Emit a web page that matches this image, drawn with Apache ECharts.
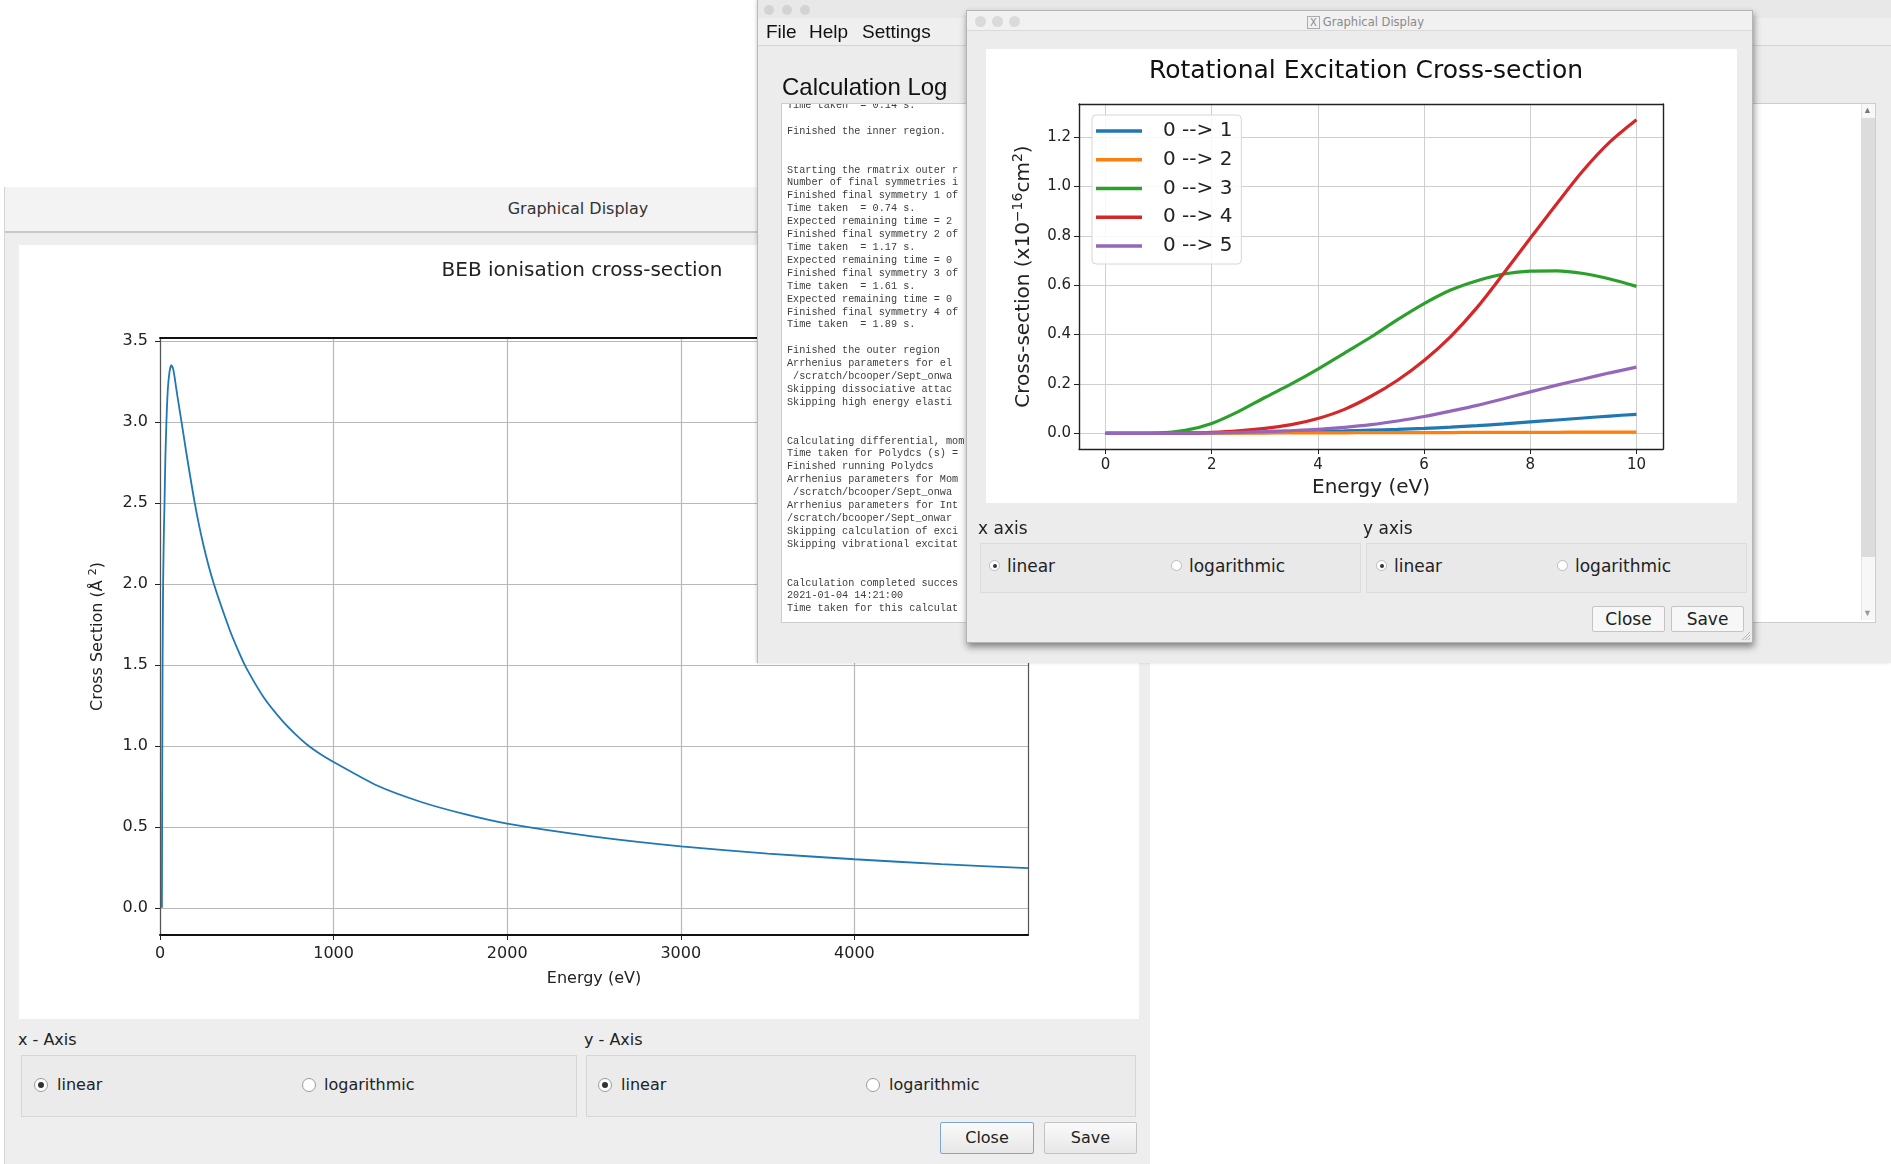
<!DOCTYPE html>
<html>
<head>
<meta charset="utf-8">
<title>Cross-section viewer</title>
<script src="https://cdn.jsdelivr.net/npm/echarts@6/dist/echarts.min.js"></script>
<style>
  html, body { margin: 0; padding: 0; }
  body { width: 1891px; height: 1164px; position: relative; overflow: hidden; background: #fff;
         font-family: 'DejaVu Sans', sans-serif; color: #222; }
  .win { position: absolute; box-sizing: border-box; }
  .a { position: absolute; box-sizing: border-box; }
  .txt { position: absolute; white-space: nowrap; line-height: 20px; }
  .dot { position: absolute; border-radius: 50%; }
  .radio { position: absolute; border-radius: 50%; background: #fff; box-sizing: border-box; }
  .radio.on::after { content: ''; position: absolute; border-radius: 50%; background: #333; }
  .btn { position: absolute; box-sizing: border-box; text-align: center; }
  /* left window */
  #winA { left: 4px; top: 187px; width: 1146px; height: 977px; background: #eeeeee; border-left: 1px solid #d4d4d4; z-index: 1; }
  #winA .radio { width: 14px; height: 14px; border: 1px solid #9a9a9a; }
  #winA .radio.on::after { width: 6px; height: 6px; left: 3px; top: 3px; }
  #winA .grp { position: absolute; border: 1px solid #d6d6d6; background: #ebebeb; }
  #winA .btn { font-size: 16px; line-height: 30px; background: linear-gradient(#fafafa, #e7e7e7); border: 1px solid #c3c3c3; border-radius: 2px; }
  /* log window */
  #winB { left: 757px; top: 0; width: 1134px; height: 663px; background: #ececec; border-left: 1px solid #b9b9b9; z-index: 2;
          box-shadow: -1px 0 3px rgba(0,0,0,0.15); font-family: 'Liberation Sans', sans-serif; }
  #log { position: absolute; left: 23px; top: 103px; width: 1093px; height: 518px; background: #fff; border: 1px solid #cdcdcd; overflow: hidden; }
  #logText { position: absolute; left: 5px; top: -4px; margin: 0; font-family: 'Liberation Mono', monospace; font-size: 10.2px;
             line-height: 12.9px; color: #3c3c3c; white-space: pre; }
  /* rotational window */
  #winC { left: 966px; top: 10px; width: 787px; height: 633px; background: #ececec; border: 1px solid #b5b5b5; z-index: 3;
          box-shadow: 1px 4px 7px rgba(0,0,0,0.45); }
  #winC .radio { width: 11px; height: 11px; border: 1px solid #bdbdbd; }
  #winC .radio.on::after { width: 4px; height: 4px; left: 2.5px; top: 2.5px; }
  #winC .grp { position: absolute; border: 1px solid #dcdcdc; background: #e9e9e9; }
  #winC .btn { font-size: 17px; line-height: 24px; background: #f7f7f7; border: 1px solid #c4c4c4; border-radius: 2px; }
</style>
</head>
<body>

<!-- BEB ionisation window -->
<div id="winA" class="win">
  <div class="a" style="left:0;top:0;width:1146px;height:46px;background:#f3f3f3;border-bottom:2px solid #c8c8c8;"></div>
  <div class="txt" style="left:373px;top:12px;width:400px;text-align:center;font-size:16px;color:#333;">Graphical Display</div>
  <div id="bebChart" class="a" style="left:14px;top:58px;width:1120px;height:774px;background:#fff;"></div>

  <div class="txt" style="left:13px;top:843px;font-size:16px;">x - Axis</div>
  <div class="grp" style="left:16px;top:868px;width:554px;height:60px;"></div>
  <div class="radio on" style="left:29px;top:891px;"></div>
  <div class="txt" style="left:52px;top:888px;font-size:16px;">linear</div>
  <div class="radio" style="left:297px;top:891px;"></div>
  <div class="txt" style="left:319px;top:888px;font-size:16px;">logarithmic</div>

  <div class="txt" style="left:579px;top:843px;font-size:16px;">y - Axis</div>
  <div class="grp" style="left:581px;top:868px;width:548px;height:60px;"></div>
  <div class="radio on" style="left:593px;top:891px;"></div>
  <div class="txt" style="left:616px;top:888px;font-size:16px;">linear</div>
  <div class="radio" style="left:861px;top:891px;"></div>
  <div class="txt" style="left:884px;top:888px;font-size:16px;">logarithmic</div>

  <div class="btn" style="left:935px;top:935px;width:94px;height:32px;border-color:#7fa5d6;">Close</div>
  <div class="btn" style="left:1039px;top:935px;width:93px;height:32px;">Save</div>
</div>

<!-- calculation log window -->
<div id="winB" class="win">
  <div class="a" style="left:0;top:0;width:1134px;height:18px;background:#e8e8e8;"></div>
  <div class="dot" style="left:6px;top:5px;width:10px;height:10px;background:#d3d3d3;"></div>
  <div class="dot" style="left:24px;top:5px;width:10px;height:10px;background:#d3d3d3;"></div>
  <div class="dot" style="left:42px;top:5px;width:10px;height:10px;background:#d3d3d3;"></div>
  <div class="a" style="left:0;top:18px;width:1134px;height:28px;background:#efefef;border-bottom:1px solid #d4d4d4;"></div>
  <div class="txt" style="left:8px;top:21px;font-size:19px;line-height:22px;color:#111;">File</div>
  <div class="txt" style="left:51px;top:21px;font-size:19px;line-height:22px;color:#111;">Help</div>
  <div class="txt" style="left:104px;top:21px;font-size:19px;line-height:22px;color:#111;">Settings</div>
  <div class="txt" style="left:24px;top:73px;font-size:24px;line-height:28px;color:#111;">Calculation Log</div>
  <div id="log">
    <pre id="logText"></pre>
    <div class="a" style="right:0;top:0;width:14px;height:516px;background:#f7f7f7;border-left:1px solid #e2e2e2;"></div>
    <div class="a" style="right:0;top:14px;width:14px;height:439px;background:#dcdcdc;"></div>
    <div class="txt" style="right:3px;top:-4px;font-size:9px;color:#777;">&#9650;</div>
    <div class="txt" style="right:3px;top:499px;font-size:9px;color:#999;">&#9660;</div>
  </div>
</div>

<!-- rotational excitation window -->
<div id="winC" class="win">
  <div class="a" style="left:0;top:0;width:785px;height:20px;background:#f1f1f1;border-bottom:1px solid #dadada;"></div>
  <div class="dot" style="left:8px;top:5px;width:11px;height:11px;background:#dadada;"></div>
  <div class="dot" style="left:25px;top:5px;width:11px;height:11px;background:#dadada;"></div>
  <div class="dot" style="left:42px;top:5px;width:11px;height:11px;background:#dadada;"></div>
  <div class="txt" style="left:340px;top:1px;font-size:11.5px;color:#8a8a8a;"><span style="border:1px solid #aaa;padding:0 2px;font-size:10px;margin-right:3px;">X</span>Graphical Display</div>
  <div id="rotChart" class="a" style="left:19px;top:38px;width:751px;height:454px;background:#fff;"></div>

  <div class="txt" style="left:11px;top:507px;font-size:17px;">x axis</div>
  <div class="grp" style="left:13px;top:532px;width:379px;height:48px;"></div>
  <div class="radio on" style="left:22px;top:549px;"></div>
  <div class="txt" style="left:40px;top:545px;font-size:17px;">linear</div>
  <div class="radio" style="left:204px;top:549px;"></div>
  <div class="txt" style="left:222px;top:545px;font-size:17px;">logarithmic</div>

  <div class="txt" style="left:396px;top:507px;font-size:17px;">y axis</div>
  <div class="grp" style="left:399px;top:532px;width:379px;height:48px;"></div>
  <div class="radio on" style="left:409px;top:549px;"></div>
  <div class="txt" style="left:427px;top:545px;font-size:17px;">linear</div>
  <div class="radio" style="left:590px;top:549px;"></div>
  <div class="txt" style="left:608px;top:545px;font-size:17px;">logarithmic</div>

  <div class="btn" style="left:625px;top:595px;width:73px;height:26px;">Close</div>
  <div class="btn" style="left:704px;top:595px;width:73px;height:26px;">Save</div>
  <svg class="a" style="left:773px;top:619px;" width="11" height="11">
    <path d="M10 2 L2 10 M10 5 L5 10 M10 8 L8 10" stroke="#b5b5b5" stroke-width="1"/>
  </svg>
</div>

<script>
// ---- calculation log contents ----
const logLines = [
  'Time taken  = 0.14 s.',
  '',
  'Finished the inner region.',
  '',
  '',
  'Starting the rmatrix outer r',
  'Number of final symmetries i',
  'Finished final symmetry 1 of',
  'Time taken  = 0.74 s.',
  'Expected remaining time = 2',
  'Finished final symmetry 2 of',
  'Time taken  = 1.17 s.',
  'Expected remaining time = 0',
  'Finished final symmetry 3 of',
  'Time taken  = 1.61 s.',
  'Expected remaining time = 0',
  'Finished final symmetry 4 of',
  'Time taken  = 1.89 s.',
  '',
  'Finished the outer region',
  'Arrhenius parameters for el',
  ' /scratch/bcooper/Sept_onwa',
  'Skipping dissociative attac',
  'Skipping high energy elasti',
  '',
  '',
  'Calculating differential, mom',
  'Time taken for Polydcs (s) =',
  'Finished running Polydcs',
  'Arrhenius parameters for Mom',
  ' /scratch/bcooper/Sept_onwa',
  'Arrhenius parameters for Int',
  '/scratch/bcooper/Sept_onwar',
  'Skipping calculation of exci',
  'Skipping vibrational excitat',
  '',
  '',
  'Calculation completed succes',
  '2021-01-04 14:21:00',
  'Time taken for this calculat'
];
document.getElementById('logText').textContent = logLines.join('\n');

// ---- BEB ionisation cross-section (energy in eV, cross section in Å²) ----
const bebEnergy = [11, 13, 15, 18, 22, 26, 31, 37, 45, 55, 65, 75, 85, 100, 124, 150, 200, 250, 310, 400,
                   450, 500, 600, 700, 775, 850, 925, 1000, 1250, 1500, 1750, 2000, 2500, 3000, 3500, 4000, 4500, 5000];
const bebSigma  = [0, 0.9, 1.55, 2.0, 2.3, 2.5, 2.78, 3.0, 3.2, 3.31, 3.35, 3.33, 3.27, 3.16, 3.0, 2.82, 2.5, 2.24, 2.0, 1.72,
                   1.59, 1.475, 1.295, 1.16, 1.077, 1.005, 0.948, 0.9, 0.755, 0.655, 0.58, 0.52, 0.44, 0.38, 0.335, 0.30, 0.27, 0.245];
const bebXTicks = [0, 1000, 2000, 3000, 4000];
const bebYTicks = [0, 0.5, 1.0, 1.5, 2.0, 2.5, 3.0, 3.5];

// ---- rotational excitation cross-sections (energy in eV, x10^-16 cm^2) ----
const rotEnergy = [0, 0.5, 1, 1.5, 2, 2.5, 3, 3.5, 4, 4.5, 5, 5.5, 6, 6.5, 7, 7.5, 8, 8.5, 9, 9.5, 10];
const rot01 = [0, 0, 0, 0.001, 0.002, 0.003, 0.005, 0.006, 0.008, 0.010, 0.013, 0.016, 0.020, 0.025, 0.031, 0.038, 0.046, 0.054, 0.062, 0.070, 0.077];
const rot02 = [0, 0, 0, 0, 0.001, 0.001, 0.001, 0.002, 0.002, 0.002, 0.003, 0.003, 0.003, 0.003, 0.004, 0.004, 0.004, 0.004, 0.005, 0.005, 0.005];
const rot03 = [0, 0, 0.001, 0.012, 0.04, 0.088, 0.145, 0.20, 0.26, 0.325, 0.39, 0.46, 0.525, 0.58, 0.618, 0.645, 0.657, 0.658, 0.647, 0.625, 0.595];
const rot04 = [0, 0, 0, 0.001, 0.004, 0.01, 0.02, 0.035, 0.06, 0.097, 0.15, 0.215, 0.295, 0.392, 0.51, 0.648, 0.79, 0.93, 1.065, 1.18, 1.27];
const rot05 = [0, 0, 0, 0.001, 0.002, 0.004, 0.007, 0.011, 0.016, 0.024, 0.035, 0.05, 0.068, 0.09, 0.113, 0.14, 0.168, 0.195, 0.22, 0.245, 0.268];
const rotNames = ['0 --> 1', '0 --> 2', '0 --> 3', '0 --> 4', '0 --> 5'];
const rotColors = ['#1f77b4', '#ff7f0e', '#2ca02c', '#d62728', '#9467bd'];
const rotXTicks = [0, 2, 4, 6, 8, 10];
const rotYTicks = [0, 0.2, 0.4, 0.6, 0.8, 1.0, 1.2];

const pairs = (xs, ys) => xs.map((x, i) => [x, ys[i]]);

// matplotlib-style frame: bottom/left axes carry ticks, top/right only draw the spine
function frameAxes(cfg) {
  const tickStyle = { color: '#222', width: 1 };
  const x = [{
      type: 'value', min: cfg.xMin, max: cfg.xMax, position: 'bottom',
      axisLine: { show: true, onZero: false, lineStyle: { color: cfg.hColor, width: cfg.hWidth } },
      axisTick: { show: true, length: 5, customValues: cfg.xTicks, lineStyle: tickStyle },
      axisLabel: { show: true, customValues: cfg.xTicks, margin: cfg.xMargin, color: '#222',
                   fontSize: cfg.tickSize, formatter: cfg.xFmt },
      splitLine: { show: true, lineStyle: { color: cfg.gridColor, width: cfg.gridWidth } },
      name: cfg.xName, nameLocation: 'middle', nameGap: cfg.xNameGap,
      nameTextStyle: { fontSize: cfg.nameSize, color: '#222' }
    }, {
      type: 'value', min: cfg.xMin, max: cfg.xMax, position: 'top',
      axisLine: { show: true, onZero: false, lineStyle: { color: cfg.hColor, width: cfg.hWidth } },
      axisTick: { show: false }, axisLabel: { show: false }, splitLine: { show: false }
    }];
  const y = [{
      type: 'value', min: cfg.yMin, max: cfg.yMax, position: 'left',
      axisLine: { show: true, onZero: false, lineStyle: { color: cfg.vColor, width: cfg.vWidth } },
      axisTick: { show: true, length: 5, customValues: cfg.yTicks, lineStyle: tickStyle },
      axisLabel: { show: true, customValues: cfg.yTicks, margin: cfg.yMargin, color: '#222',
                   fontSize: cfg.tickSize, formatter: v => v.toFixed(1) },
      splitLine: { show: true, lineStyle: { color: cfg.gridColor, width: cfg.gridWidth } },
      name: cfg.yName, nameLocation: 'middle', nameGap: cfg.yNameGap,
      nameTextStyle: { fontSize: cfg.nameSize, color: '#222', rich: cfg.rich }
    }, {
      type: 'value', min: cfg.yMin, max: cfg.yMax, position: 'right',
      axisLine: { show: true, onZero: false, lineStyle: { color: cfg.vColor, width: cfg.vWidth } },
      axisTick: { show: false }, axisLabel: { show: false }, splitLine: { show: false }
    }];
  return { xAxis: x, yAxis: y };
}

// ---- left chart ----
const bebChart = echarts.init(document.getElementById('bebChart'));
const bebAxes = frameAxes({
  xMin: 0, xMax: 5000, yMin: -0.1675, yMax: 3.5175,
  xTicks: bebXTicks, yTicks: bebYTicks, xFmt: v => String(v),
  hColor: '#111', hWidth: 2, vColor: '#555', vWidth: 1.2,
  gridColor: '#b8b8b8', gridWidth: 1.2, tickSize: 16, nameSize: 16,
  xMargin: 11, yMargin: 12, xName: 'Energy (eV)', xNameGap: 36,
  yName: 'Cross Section (Å {sup|2})', yNameGap: 52,
  rich: { sup: { fontSize: 11, padding: [0, 0, 9, 0] } }
});
bebChart.setOption({
  animation: false,
  textStyle: { fontFamily: 'DejaVu Sans' },
  grid: { left: 141, right: 111, top: 93, bottom: 84 },
  xAxis: bebAxes.xAxis,
  yAxis: bebAxes.yAxis,
  graphic: [{
    type: 'text', x: 563, y: 26,
    style: { text: 'BEB ionisation cross-section', font: '20px "DejaVu Sans"', fill: '#222',
             align: 'center', verticalAlign: 'middle' }
  }],
  series: [{
    type: 'line', xAxisIndex: 0, yAxisIndex: 0,
    data: pairs(bebEnergy, bebSigma),
    showSymbol: false, smooth: 0.2,
    lineStyle: { color: '#1f77b4', width: 1.8 }, itemStyle: { color: '#1f77b4' }
  }]
});

// ---- right chart ----
const rotChart = echarts.init(document.getElementById('rotChart'));
const rotAxes = frameAxes({
  xMin: -0.5, xMax: 10.5, yMin: -0.0635, yMax: 1.3335,
  xTicks: rotXTicks, yTicks: rotYTicks, xFmt: v => String(v),
  hColor: '#222', hWidth: 1.4, vColor: '#222', vWidth: 1.4,
  gridColor: '#cfcfcf', gridWidth: 1, tickSize: 15, nameSize: 20,
  xMargin: 9, yMargin: 8, xName: 'Energy (eV)', xNameGap: 29,
  yName: 'Cross-section (x10{sup|−16}cm{sup|2})', yNameGap: 42,
  rich: { sup: { fontSize: 14, padding: [0, 0, 12, 0] } }
});
rotChart.setOption({
  animation: false,
  textStyle: { fontFamily: 'DejaVu Sans' },
  grid: { left: 93, right: 74, top: 55, bottom: 49 },
  xAxis: rotAxes.xAxis,
  yAxis: rotAxes.yAxis,
  legend: {
    data: rotNames, orient: 'vertical', left: 106, top: 66,
    icon: 'rect', itemWidth: 46, itemHeight: 3.5, itemGap: 6.75,
    padding: [5, 9, 7, 4],
    backgroundColor: 'rgba(255,255,255,0.85)', borderColor: '#d6d6d6', borderWidth: 1, borderRadius: 4,
    textStyle: { fontSize: 20, lineHeight: 22, color: '#222', padding: [0, 0, 0, 16] }
  },
  graphic: [{
    type: 'text', x: 380, y: 22,
    style: { text: 'Rotational Excitation Cross-section', font: '25px "DejaVu Sans"', fill: '#111',
             align: 'center', verticalAlign: 'middle' }
  }],
  series: [rot01, rot02, rot03, rot04, rot05].map((ys, i) => ({
    name: rotNames[i], type: 'line', xAxisIndex: 0, yAxisIndex: 0,
    data: pairs(rotEnergy, ys),
    showSymbol: false, smooth: 0.3,
    color: rotColors[i],
    lineStyle: { color: rotColors[i], width: 3.2 }, itemStyle: { color: rotColors[i] }
  }))
});
</script>
</body>
</html>
